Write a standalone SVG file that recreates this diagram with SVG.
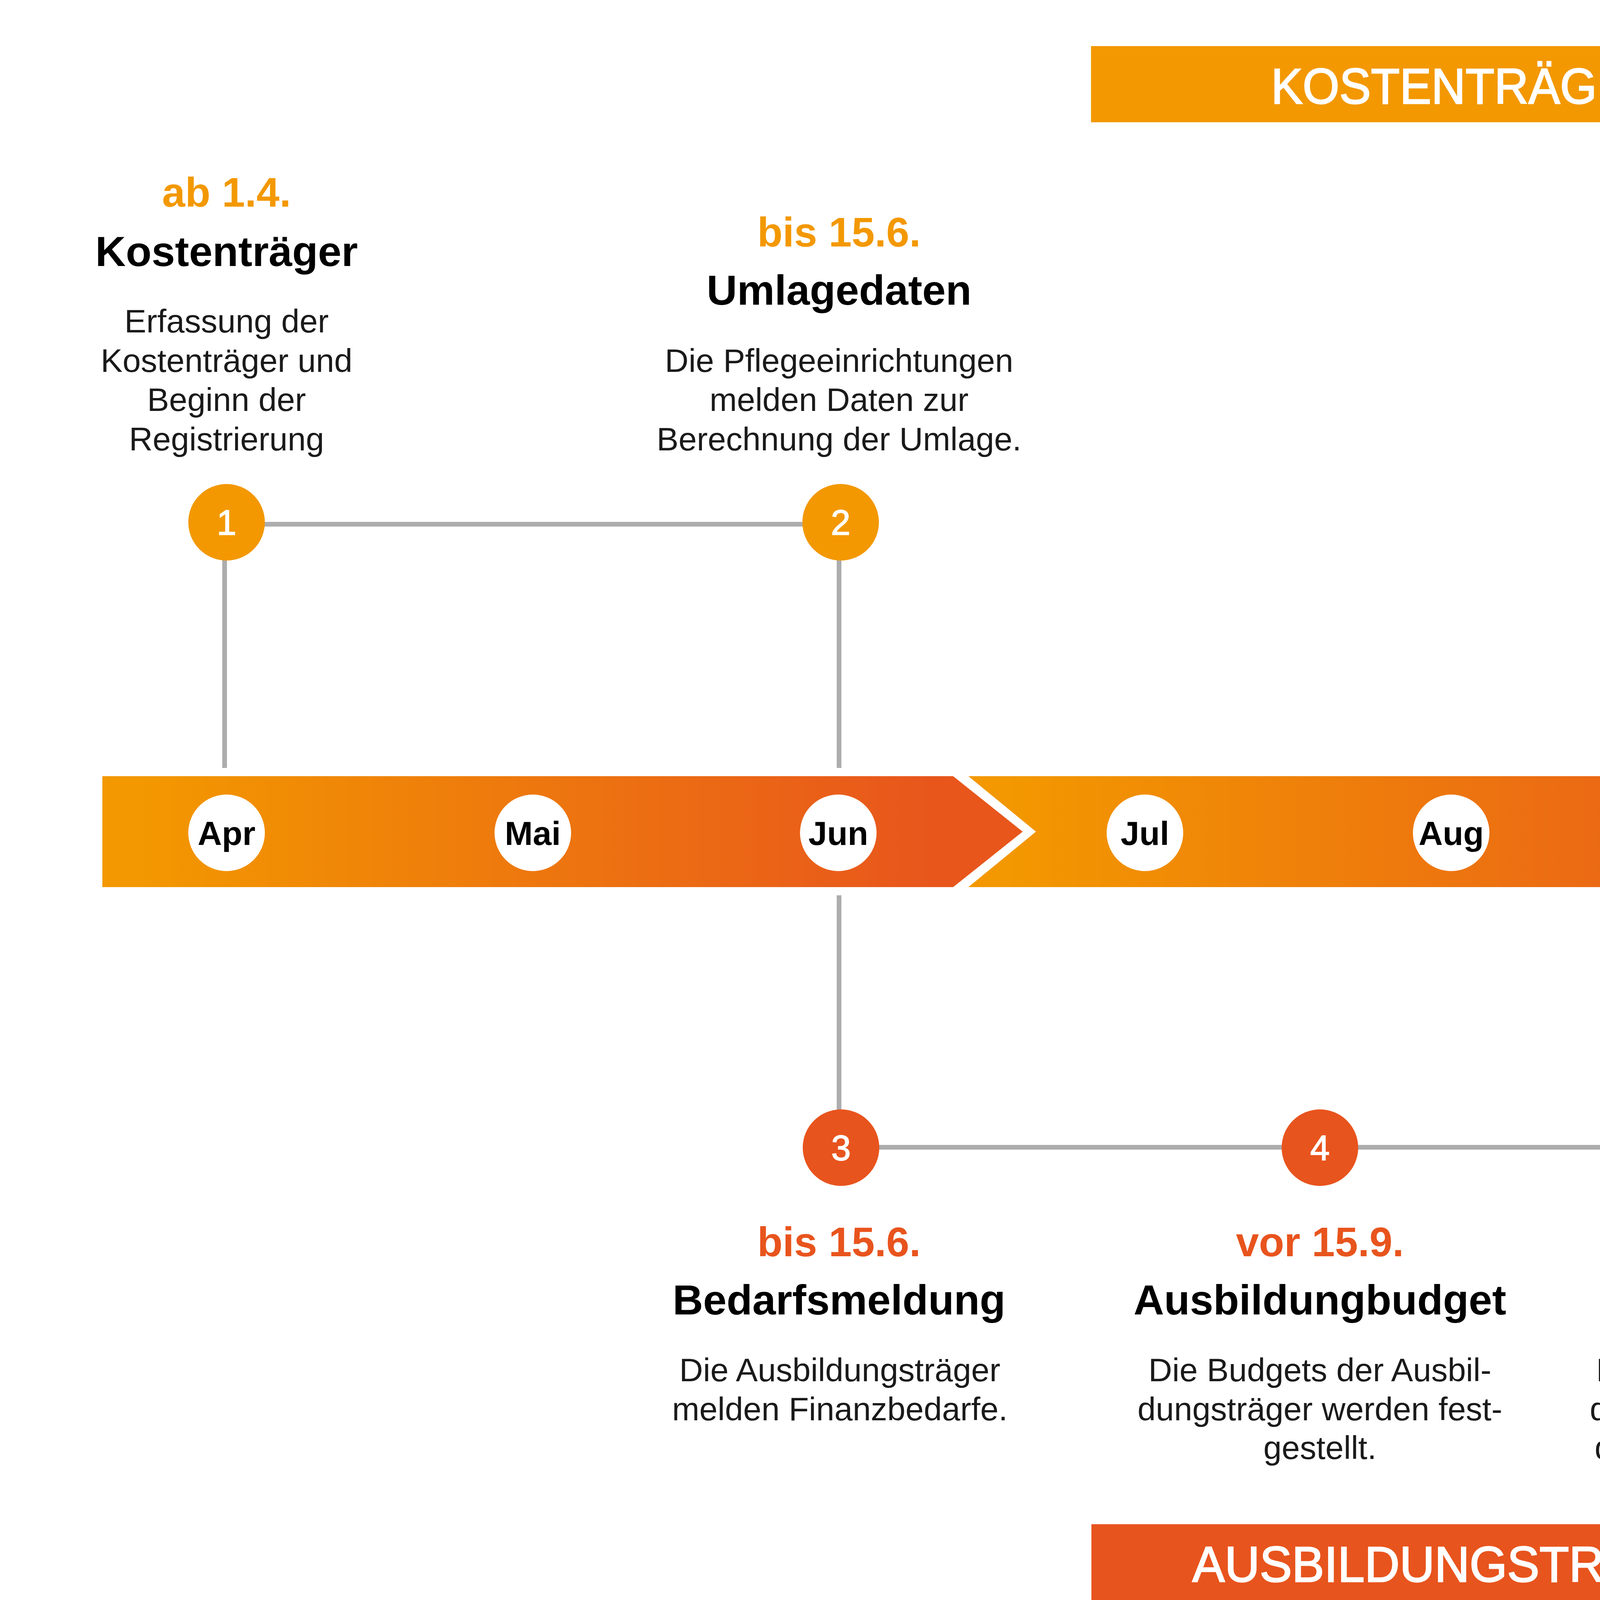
<svg xmlns="http://www.w3.org/2000/svg" width="7500" height="4217" viewBox="0 0 7500 4217">
<style>
text{font-family:"Liberation Sans",Arial,sans-serif;text-anchor:middle}
.hdr{font-size:128px;fill:#fff;stroke:#fff;stroke-width:3}
.date-o{font-size:106px;font-weight:bold;fill:#F39800}
.date-r{font-size:106px;font-weight:bold;fill:#E8541D}
.title{font-size:108px;font-weight:bold;fill:#000}
.desc{font-size:84px;fill:#1a1a1a}
.num{font-size:90px;fill:#fff;stroke:#fff;stroke-width:2}
.mon{font-size:86px;font-weight:bold;fill:#000}
.conn{stroke:#ADADAD;stroke-width:12;fill:none}
.mc{fill:#fff}
.co{fill:#F39800}
.cr{fill:#E8541D}
</style>
<defs>
<linearGradient id="seg" x1="0" y1="0" x2="1" y2="0">
<stop offset="0.04" stop-color="#F39800"/>
<stop offset="0.9" stop-color="#E8561C"/>
</linearGradient>
</defs>
<rect width="7500" height="4217" fill="#fff"/>

<g id="header-top">
<rect x="2793" y="118" width="1925" height="195" fill="#F39800"/>
<text class="hdr" x="3755" y="265" textLength="1002" lengthAdjust="spacingAndGlyphs">KOSTENTRÄGER</text>
</g>
<g id="header-bottom">
<rect x="2794" y="3902" width="1924" height="196" fill="#E8541D"/>
<text class="hdr" x="3755" y="4049" textLength="1405" lengthAdjust="spacingAndGlyphs">AUSBILDUNGSTRÄGER</text>
</g>

<g id="connectors">
<line class="conn" x1="580" y1="1342" x2="2152" y2="1342"/>
<line class="conn" x1="5284" y1="1342" x2="6852" y2="1342"/>
<line class="conn" x1="575" y1="1400" x2="575" y2="1966"/>
<line class="conn" x1="2148" y1="1400" x2="2148" y2="1966"/>
<line class="conn" x1="5279" y1="1400" x2="5279" y2="1966"/>
<line class="conn" x1="6846" y1="1400" x2="6846" y2="1966"/>
<line class="conn" x1="2148" y1="2292" x2="2148" y2="2900"/>
<line class="conn" x1="4499" y1="2292" x2="4499" y2="2900"/>
<line class="conn" x1="2153" y1="2937" x2="4504" y2="2937"/>
</g>

<g id="timeline">
<path d="M262,1987 H2440 L2618,2129 L2440,2271 H262 Z" fill="url(#seg)"/>
<path d="M2479,1987 H4795 L4981,2129 L4795,2271 H2479 L2652,2129 Z" fill="url(#seg)"/>
<path d="M4831,1987 H7105 L7289,2129 L7105,2271 H4831 L5017,2129 Z" fill="url(#seg)"/>
</g>

<g id="months">
<circle class="mc" cx="580" cy="2132" r="98"/><text class="mon" x="580" y="2163">Apr</text>
<circle class="mc" cx="1364" cy="2132" r="98"/><text class="mon" x="1364" y="2163">Mai</text>
<circle class="mc" cx="2146" cy="2132" r="98"/><text class="mon" x="2146" y="2163">Jun</text>
<circle class="mc" cx="2931" cy="2132" r="98"/><text class="mon" x="2931" y="2163">Jul</text>
<circle class="mc" cx="3715" cy="2132" r="98"/><text class="mon" x="3715" y="2163">Aug</text>
<circle class="mc" cx="4498" cy="2132" r="98"/><text class="mon" x="4498" y="2163">Sep</text>
<circle class="mc" cx="5281" cy="2132" r="98"/><text class="mon" x="5281" y="2163">Okt</text>
<circle class="mc" cx="6066" cy="2132" r="98"/><text class="mon" x="6066" y="2163">Nov</text>
<circle class="mc" cx="6849" cy="2132" r="98"/><text class="mon" x="6849" y="2163">Dez</text>
</g>

<g id="step1">
<circle class="co" cx="580" cy="1337" r="98"/><text class="num" x="580" y="1369">1</text>
<text class="date-o" x="580" y="529">ab 1.4.</text>
<text class="title" x="580" y="681">Kostenträger</text>
<text class="desc" x="580" y="851">Erfassung der</text>
<text class="desc" x="580" y="952">Kostenträger und</text>
<text class="desc" x="580" y="1052">Beginn der</text>
<text class="desc" x="580" y="1153">Registrierung</text>
</g>

<g id="step2">
<circle class="co" cx="2152" cy="1337" r="98"/><text class="num" x="2152" y="1369">2</text>
<text class="date-o" x="2148" y="631">bis 15.6.</text>
<text class="title" x="2148" y="780">Umlagedaten</text>
<text class="desc" x="2148" y="952">Die Pflegeeinrichtungen</text>
<text class="desc" x="2148" y="1052">melden Daten zur</text>
<text class="desc" x="2148" y="1153">Berechnung der Umlage.</text>
</g>

<g id="step3">
<circle class="cr" cx="2153" cy="2938" r="98"/><text class="num" x="2153" y="2970">3</text>
<text class="date-r" x="2148" y="3216">bis 15.6.</text>
<text class="title" x="2148" y="3365">Bedarfsmeldung</text>
<text class="desc" x="2150" y="3536">Die Ausbildungsträger</text>
<text class="desc" x="2150" y="3636">melden Finanzbedarfe.</text>
</g>

<g id="step4">
<circle class="cr" cx="3379" cy="2938" r="98"/><text class="num" x="3379" y="2970">4</text>
<text class="date-r" x="3379" y="3216">vor 15.9.</text>
<text class="title" x="3379" y="3365">Ausbildungbudget</text>
<text class="desc" x="3379" y="3536">Die Budgets der Ausbil-</text>
<text class="desc" x="3379" y="3636">dungsträger werden fest-</text>
<text class="desc" x="3379" y="3735">gestellt.</text>
</g>

<g id="step5">
<circle class="cr" cx="4504" cy="2938" r="98"/><text class="num" x="4504" y="2970">5</text>
<text class="date-r" x="4525" y="3216">bis 15.9.</text>
<text class="title" x="4525" y="3365">Finanzbedarf</text>
<text class="desc" x="4525" y="3536">Der gesamte Finanzbe-</text>
<text class="desc" x="4525" y="3636">darf für die Pflegeausbil-</text>
<text class="desc" x="4525" y="3735">dung wird veröffentlicht.</text>
</g>

<g id="step6">
<circle class="co" cx="5284" cy="1337" r="98"/><text class="num" x="5284" y="1369">6</text>
<text class="date-o" x="5287" y="499">bis 31.10.</text>
<text class="title" x="5287" y="630">Umlage</text>
<text class="title" x="5287" y="780">Pflegeeinrichtungen</text>
<text class="desc" x="5287" y="950">Die Umlagebeträge für die</text>
<text class="desc" x="5287" y="1049">Pflegeeinrichtungen wer-</text>
<text class="desc" x="5287" y="1149">den festgesetzt.</text>
</g>

<g id="step7">
<circle class="co" cx="6852" cy="1337" r="98"/><text class="num" x="6852" y="1369">7</text>
<text class="date-o" x="6845" y="499">bis 15.12.</text>
<text class="title" x="6845" y="630">Umlage</text>
<text class="title" x="6845" y="780">Krankenhäuser</text>
<text class="desc" x="6845" y="950">Die Umlagebeträge für</text>
<text class="desc" x="6845" y="1049">die Krankenhäuser wer-</text>
<text class="desc" x="6845" y="1149">den festgesetzt.</text>
</g>
</svg>
